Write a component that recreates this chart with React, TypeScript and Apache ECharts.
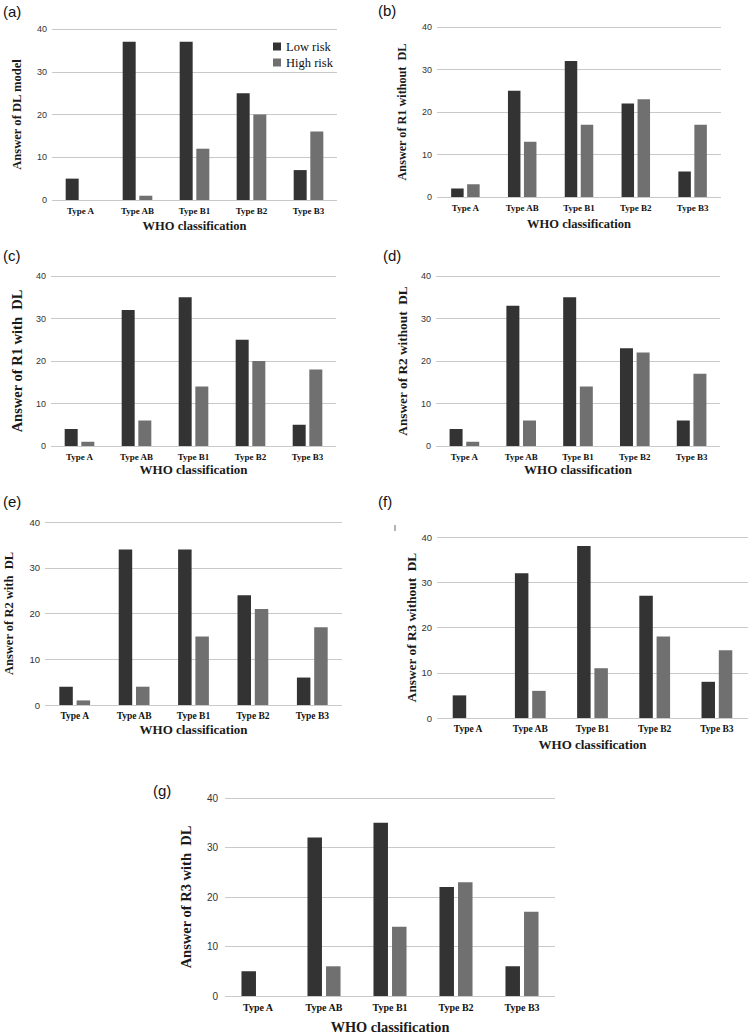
import React, { useEffect, useRef } from "react";
import * as echarts from "echarts";

// ---------- data ----------
const categories = ["Type A", "Type AB", "Type B1", "Type B2", "Type B3"];
const seriesNames = ["Low risk", "High risk"];
const panelLabels = ["(a)", "(b)", "(c)", "(d)", "(e)", "(f)", "(g)"];
const yTitles = [
  "Answer of DL model",
  "Answer of R1 without  DL",
  "Answer of R1 with  DL",
  "Answer of R2 without  DL",
  "Answer of R2 with  DL",
  "Answer of R3 without  DL",
  "Answer of R3 with  DL",
];
const xTitle = "WHO classification";
const yMin = 0;
const yMax = 40;
const yStep = 10;

const lowA = [5, 37, 37, 25, 7];
const highA = [0, 1, 12, 20, 16];
const lowB = [2, 25, 32, 22, 6];
const highB = [3, 13, 17, 23, 17];
const lowC = [4, 32, 35, 25, 5];
const highC = [1, 6, 14, 20, 18];
const lowD = [4, 33, 35, 23, 6];
const highD = [1, 6, 14, 22, 17];
const lowE = [4, 34, 34, 24, 6];
const highE = [1, 4, 15, 21, 17];
const lowF = [5, 32, 38, 27, 8];
const highF = [0, 6, 11, 18, 15];
const lowG = [5, 32, 35, 22, 6];
const highG = [0, 6, 14, 23, 17];

const lowSets = [lowA, lowB, lowC, lowD, lowE, lowF, lowG];
const highSets = [highA, highB, highC, highD, highE, highF, highG];

// ---------- layout (positions / styles only) ----------
type Layout = {
  left: number; top: number; width: number; height: number;
  barW: number; tickFs: number; catFs: number;
  yTitleX: number; yTitleFs: number;
  xTitleY: number; xTitleFs: number;
  labX: number; labY: number;
};
const layouts: Layout[] = [
  { left: 52, top: 29, width: 285, height: 171, barW: 13, tickFs: 9, catFs: 9, yTitleX: 17, yTitleFs: 12.6, xTitleY: 226, xTitleFs: 12.5, labX: 3, labY: 11 },
  { left: 437, top: 27, width: 284, height: 170, barW: 12.5, tickFs: 9, catFs: 9, yTitleX: 402, yTitleFs: 12.2, xTitleY: 224, xTitleFs: 12.5, labX: 378, labY: 10 },
  { left: 51, top: 276, width: 285, height: 170, barW: 13, tickFs: 9, catFs: 9, yTitleX: 17, yTitleFs: 14.5, xTitleY: 469, xTitleFs: 13, labX: 3, labY: 255 },
  { left: 436, top: 276, width: 284, height: 170, barW: 13, tickFs: 9, catFs: 9, yTitleX: 402, yTitleFs: 13.3, xTitleY: 469, xTitleFs: 13, labX: 383, labY: 255 },
  { left: 45, top: 522, width: 297, height: 183, barW: 13.5, tickFs: 9.5, catFs: 9.5, yTitleX: 9, yTitleFs: 12.5, xTitleY: 729, xTitleFs: 13, labX: 3, labY: 501 },
  { left: 437, top: 537, width: 311, height: 181, barW: 13.5, tickFs: 9.5, catFs: 9.5, yTitleX: 411, yTitleFs: 13.3, xTitleY: 744, xTitleFs: 13, labX: 378, labY: 501 },
  { left: 225, top: 798, width: 330, height: 198, barW: 14.5, tickFs: 10, catFs: 10, yTitleX: 186, yTitleFs: 14.5, xTitleY: 1027, xTitleFs: 14.3, labX: 153, labY: 790 },
];

const DARK = "#333333";
const LIGHT = "#707070";
const GRID = "#c9c9c9";
const SERIF = "'Liberation Serif', 'Times New Roman', serif";
const SANS = "'Liberation Sans', Arial, sans-serif";

export default function App() {
  const ref = useRef<HTMLDivElement>(null);

  useEffect(() => {
    if (!ref.current) return;
    const chart = echarts.init(ref.current, undefined, { renderer: "svg" });

    const grids = layouts.map((l) => ({ left: l.left, top: l.top, width: l.width, height: l.height }));
    const xAxes = layouts.map((l, i) => ({
      type: "category",
      gridIndex: i,
      data: categories,
      axisLine: { show: false },
      axisTick: { show: false },
      axisLabel: {
        interval: 0,
        margin: 6,
        fontFamily: SERIF,
        fontWeight: "bold",
        fontSize: l.catFs,
        color: "#111",
      },
      splitLine: { show: false },
    }));
    const yAxes = layouts.map((l, i) => ({
      type: "value",
      gridIndex: i,
      min: yMin,
      max: yMax,
      interval: yStep,
      axisLine: { show: false },
      axisTick: { show: false },
      axisLabel: { margin: i === 6 ? 7 : 5, fontFamily: SANS, fontSize: l.tickFs, color: "#333" },
      splitLine: { show: true, lineStyle: { color: GRID, width: 1 } },
    }));

    const series: any[] = [];
    layouts.forEach((l, i) => {
      series.push({
        name: seriesNames[0],
        type: "bar",
        xAxisIndex: i,
        yAxisIndex: i,
        data: lowSets[i],
        barWidth: l.barW,
        barGap: "28%",
        itemStyle: { color: DARK },
        silent: true,
      });
      series.push({
        name: seriesNames[1],
        type: "bar",
        xAxisIndex: i,
        yAxisIndex: i,
        data: highSets[i],
        barWidth: l.barW,
        barGap: "28%",
        itemStyle: { color: LIGHT },
        silent: true,
      });
    });

    const graphics: any[] = [];
    layouts.forEach((l, i) => {
      graphics.push({
        type: "text",
        x: l.labX,
        y: l.labY,
        style: { text: panelLabels[i], font: `15px ${SANS}`, fill: "#111", align: "left", verticalAlign: "middle" },
      });
      graphics.push({
        type: "text",
        x: l.yTitleX,
        y: l.top + l.height / 2,
        rotation: Math.PI / 2,
        style: { text: yTitles[i], font: `bold ${l.yTitleFs}px ${SERIF}`, fill: "#1a1a1a", align: "center", verticalAlign: "middle" },
      });
      graphics.push({
        type: "text",
        x: l.left + l.width / 2,
        y: l.xTitleY,
        style: { text: xTitle, font: `bold ${l.xTitleFs}px ${SERIF}`, fill: "#1a1a1a", align: "center", verticalAlign: "middle" },
      });
    });
    // stray tick mark seen next to panel (f)
    graphics.push({
      type: "line",
      shape: { x1: 395, y1: 525, x2: 395, y2: 531 },
      style: { stroke: "#666", lineWidth: 1 },
    });

    chart.setOption({
      animation: false,
      backgroundColor: "#ffffff",
      grid: grids,
      xAxis: xAxes,
      yAxis: yAxes,
      series,
      legend: {
        data: seriesNames,
        orient: "vertical",
        left: 273,
        top: 40,
        itemWidth: 8,
        itemHeight: 8,
        itemGap: 3,
        icon: "rect",
        selectedMode: false,
        textStyle: { fontFamily: SERIF, fontSize: 12.5, color: "#111" },
        padding: 0,
      },
      graphic: graphics,
    });

    return () => chart.dispose();
  }, []);

  return (
    <div
      ref={ref}
      style={{ position: "absolute", left: 0, top: 0, width: 750, height: 1035, background: "#fff" }}
    />
  );
}
